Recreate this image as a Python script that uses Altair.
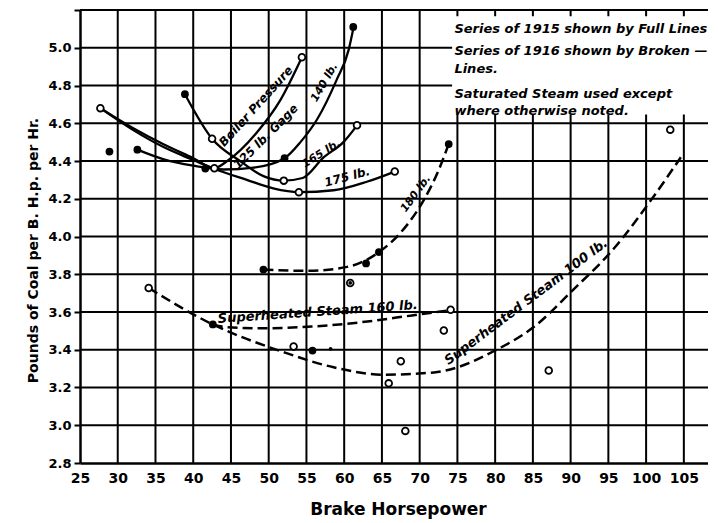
import altair as alt
import pandas as pd

# ---- curve data ----
c125_x = [27.7, 32.0, 36.0, 40.0, 42.8, 44.5, 48.4, 51.5, 54.4]
c125_y = [4.68, 4.575, 4.49, 4.415, 4.362, 4.40, 4.55, 4.72, 4.95]

c140_x = [32.6, 36.0, 40.0, 44.0, 48.0, 52.1, 54.2, 56.4, 59.0, 60.6, 61.2]
c140_y = [4.46, 4.41, 4.375, 4.355, 4.365, 4.415, 4.50, 4.62, 4.83, 4.99, 5.10]

c165_x = [38.9, 42.5, 46.2, 49.3, 52.0, 54.5, 57.3, 59.9, 61.7]
c165_y = [4.754, 4.518, 4.40, 4.32, 4.296, 4.31, 4.42, 4.50, 4.589]

c175_x = [27.7, 32.0, 36.0, 40.0, 43.0, 47.1, 50.6, 54.0, 58.6, 63.0, 66.7]
c175_y = [4.68, 4.565, 4.475, 4.405, 4.355, 4.30, 4.255, 4.235, 4.245, 4.29, 4.344]

c180_x = [49.3, 55.1, 60.4, 64.6, 67.4, 70.5, 72.5, 73.85]
c180_y = [3.825, 3.818, 3.839, 3.917, 4.017, 4.19, 4.35, 4.49]

sh160_x = [42.6, 44.4, 49.1, 55.7, 62.3, 69.0, 74.1]
sh160_y = [3.534, 3.52, 3.514, 3.523, 3.546, 3.582, 3.61]

sh100_x = [34.1, 42.6, 52.0, 58.6, 65.2, 71.9, 75.0, 80.0, 85.1, 90.4, 95.7, 100.6, 104.6]
sh100_y = [3.727, 3.534, 3.387, 3.307, 3.268, 3.28, 3.307, 3.396, 3.52, 3.72, 3.935, 4.19, 4.42]

# ---- observed points ----
filled_x = [28.9, 32.6, 38.9, 41.6, 52.1, 61.2, 49.3, 62.9, 64.6, 73.85, 42.6, 55.8]
filled_y = [4.45, 4.46, 4.754, 4.36, 4.415, 5.11, 3.825, 3.857, 3.917, 4.49, 3.534, 3.396]

open_x = [27.7, 42.5, 42.8, 54.4, 52.0, 54.0, 61.7, 66.7, 34.1, 53.3, 67.5, 65.9, 68.1,
          73.2, 74.1, 87.1, 103.2, 60.8]
open_y = [4.68, 4.518, 4.362, 4.95, 4.296, 4.235, 4.589, 4.344, 3.727, 3.417, 3.339, 3.222,
          2.97, 3.502, 3.612, 3.29, 4.566, 3.754]

small_x = [58.2, 60.8]
small_y = [3.405, 3.754]

# ---- curve labels ----
lab_text = ["Boiler Pressure", "125 lb. Gage", "140 lb.", "165 lb.", "175 lb.", "180 lb.",
            "Superheated Steam 160 lb.", "Superheated Steam 100 lb."]
lab_x = [48.3, 49.6, 57.4, 57.0, 60.4, 69.5, 56.5, 84.1]
lab_y = [4.69, 4.53, 4.816, 4.438, 4.316, 4.226, 3.60, 3.654]
lab_ang = [312, 315, 300, 328, 345, 306, 356, 323]
lab_size = [12, 12, 11, 11, 12, 11, 13, 13]

note_text = ["Series of 1915 shown by Full Lines", "Series of 1916 shown by Broken —",
             "Lines.", "Saturated Steam used except", "where otherwise noted."]
note_y = [5.098, 4.981, 4.885, 4.757, 4.667]
note_x = 74.6

x_ticks = list(range(25, 110, 5))
y_ticks = [2.8, 3.0, 3.2, 3.4, 3.6, 3.8, 4.0, 4.2, 4.4, 4.6, 4.8, 5.0, 5.2]

X_MIN, X_MAX = 25, 108.2
Y_MIN, Y_MAX = 2.8, 5.2
FONT = "DejaVu Sans"


def curves(names, xs, ys):
    rows = []
    for n, xl, yl in zip(names, xs, ys):
        for i, (a, b) in enumerate(zip(xl, yl)):
            rows.append({"curve": n, "x": a, "y": b, "i": i})
    return pd.DataFrame(rows)


solid_df = curves(["125", "140", "165", "175"],
                  [c125_x, c140_x, c165_x, c175_x], [c125_y, c140_y, c165_y, c175_y])
dash_df = curves(["180", "sh160", "sh100"],
                 [c180_x, sh160_x, sh100_x], [c180_y, sh160_y, sh100_y])
filled_df = pd.DataFrame({"x": filled_x, "y": filled_y})
open_df = pd.DataFrame({"x": open_x, "y": open_y})
small_df = pd.DataFrame({"x": small_x, "y": small_y})
lab_df = pd.DataFrame({"t": lab_text, "x": lab_x, "y": lab_y, "a": lab_ang, "s": lab_size})
note_df = pd.DataFrame({"t": note_text, "x": [note_x] * len(note_text), "y": note_y})
box_df = pd.DataFrame({"x": [74.3], "x2": [X_MAX], "y": [4.646], "y2": [5.167]})
vgrid_df = pd.DataFrame({"x": x_ticks[1:], "y": [Y_MIN] * (len(x_ticks) - 1),
                         "y2": [Y_MAX] * (len(x_ticks) - 1)})
hgrid_df = pd.DataFrame({"y": y_ticks[1:], "x": [X_MIN] * (len(y_ticks) - 1),
                         "x2": [X_MAX] * (len(y_ticks) - 1)})

xscale = alt.Scale(domain=[X_MIN, X_MAX], nice=False, zero=False)
yscale = alt.Scale(domain=[Y_MIN, Y_MAX], nice=False, zero=False)

xaxis = alt.Axis(values=x_ticks, grid=False,
                 domainColor="black", domainWidth=2.5, ticks=False, labelPadding=8,
                 labelFont=FONT, labelFontSize=14, labelFontWeight="bold", labelColor="black",
                 title="Brake Horsepower", titleFont=FONT, titleFontSize=17, titleFontWeight="bold",
                 titleColor="black", titleX=318, titleY=46, titleBaseline="middle",
                 titleAlign="center", labelFlush=False, labelOverlap=False)
yaxis = alt.Axis(values=y_ticks, grid=False,
                 domainColor="black", domainWidth=2.5, ticks=True, tickSize=6, tickWidth=2,
                 tickColor="black", labelPadding=3,
                 labelExpr="datum.value > 5.1 ? '' : format(datum.value, '.1f')",
                 labelFont=FONT, labelFontSize=13, labelFontWeight="bold", labelColor="black",
                 title="Pounds of Coal per B. H.p. per Hr.", titleFont=FONT, titleFontSize=14,
                 titleFontWeight="bold", titleColor="black", titleAngle=270, titleX=-47,
                 titleY=240, titleBaseline="middle", titleAlign="center", labelFlush=False,
                 labelOverlap=False)

X = alt.X("x:Q", scale=xscale, axis=xaxis)
Y = alt.Y("y:Q", scale=yscale, axis=yaxis)

vgrid = alt.Chart(vgrid_df).mark_rule(color="black", strokeWidth=2).encode(x=X, y=Y, y2="y2")
hgrid = alt.Chart(hgrid_df).mark_rule(color="black", strokeWidth=2).encode(x=X, x2="x2", y=Y)

box = alt.Chart(box_df).mark_rect(fill="white").encode(x=X, x2="x2", y=Y, y2="y2")

solid = alt.Chart(solid_df).mark_line(interpolate="monotone", color="black", strokeWidth=2.3).encode(
    x=X, y=Y, detail="curve:N", order="i:Q")
dashed = alt.Chart(dash_df).mark_line(interpolate="monotone", color="black", strokeWidth=2.5,
                                      strokeDash=[10, 5]).encode(
    x=X, y=Y, detail="curve:N", order="i:Q")
filled = alt.Chart(filled_df).mark_circle(color="black", size=60, opacity=1).encode(x=X, y=Y)
opened = alt.Chart(open_df).mark_circle(fill="white", stroke="black", strokeWidth=1.8,
                                        size=45, opacity=1, fillOpacity=1).encode(x=X, y=Y)
small = alt.Chart(small_df).mark_circle(color="black", size=14, opacity=1).encode(x=X, y=Y)

labels = alt.Chart(lab_df).mark_text(font=FONT, fontWeight="bold", fontStyle="italic",
                                     color="black", align="center", baseline="middle").encode(
    x=X, y=Y, text="t:N", angle=alt.Angle("a:Q", scale=None), size=alt.Size("s:Q", scale=None))

notes = alt.Chart(note_df).mark_text(font=FONT, fontWeight="bold", fontStyle="italic",
                                     fontSize=13, color="black", align="left",
                                     baseline="middle").encode(x=X, y=Y, text="t:N")

chart = alt.layer(vgrid, hgrid, box, solid, dashed, filled, opened, small, labels, notes).properties(
    width=628, height=453,
    autosize=alt.AutoSizeParams(type="none"),
    padding={"left": 72, "top": 2, "right": 0, "bottom": 58},
    background="white",
).configure_view(stroke=None)

chart.save("out.html", embed_options={"renderer": "svg", "actions": False})
